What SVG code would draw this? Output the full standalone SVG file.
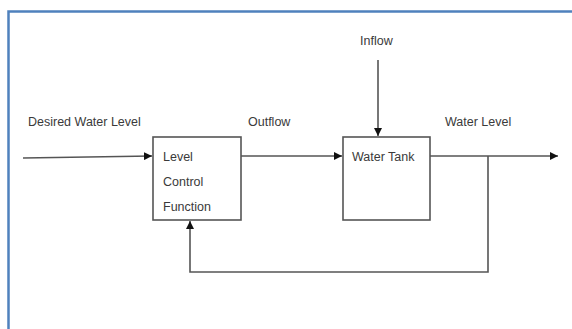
<svg xmlns="http://www.w3.org/2000/svg" width="572" height="329" viewBox="0 0 572 329">
<style>
.t{font-family:"Liberation Sans",Arial,sans-serif;font-size:12.5px;fill:#3a3a3a}
.box{fill:#fff;stroke:#555;stroke-width:1.6}
.ln{fill:none;stroke:#555;stroke-width:1.6}
</style>
<defs>
<marker id="ah" viewBox="0 0 10 10" refX="10" refY="5" markerWidth="8" markerHeight="8" markerUnits="userSpaceOnUse" orient="auto">
<path d="M0,0 L10,5 L0,10 z" fill="#111"/>
</marker>
</defs>
<rect width="572" height="329" fill="#fff"/>
<path d="M8.5,340 V11.5 H580" fill="none" stroke="#4f81bd" stroke-width="2.5"/>
<g id="connectors">
<path class="ln" d="M23,158 L152,156" marker-end="url(#ah)"/>
<path class="ln" d="M241,156 H342" marker-end="url(#ah)"/>
<path class="ln" d="M378,60 V136" marker-end="url(#ah)"/>
<path class="ln" d="M430,156 H558" marker-end="url(#ah)"/>
<path class="ln" d="M488,156 V272 H190 V221" marker-end="url(#ah)"/>
</g>
<g id="level-control">
<rect class="box" x="153" y="137" width="88" height="83"/>
<text class="t" x="163" y="161">Level</text>
<text class="t" x="163" y="186">Control</text>
<text class="t" x="163" y="211">Function</text>
</g>
<g id="water-tank">
<rect class="box" x="343" y="137" width="87" height="83"/>
<text class="t" x="352" y="161">Water Tank</text>
</g>
<g id="labels">
<text class="t" x="28" y="126">Desired Water Level</text>
<text class="t" x="248" y="126">Outflow</text>
<text class="t" x="360" y="45">Inflow</text>
<text class="t" x="445" y="126">Water Level</text>
</g>
</svg>
